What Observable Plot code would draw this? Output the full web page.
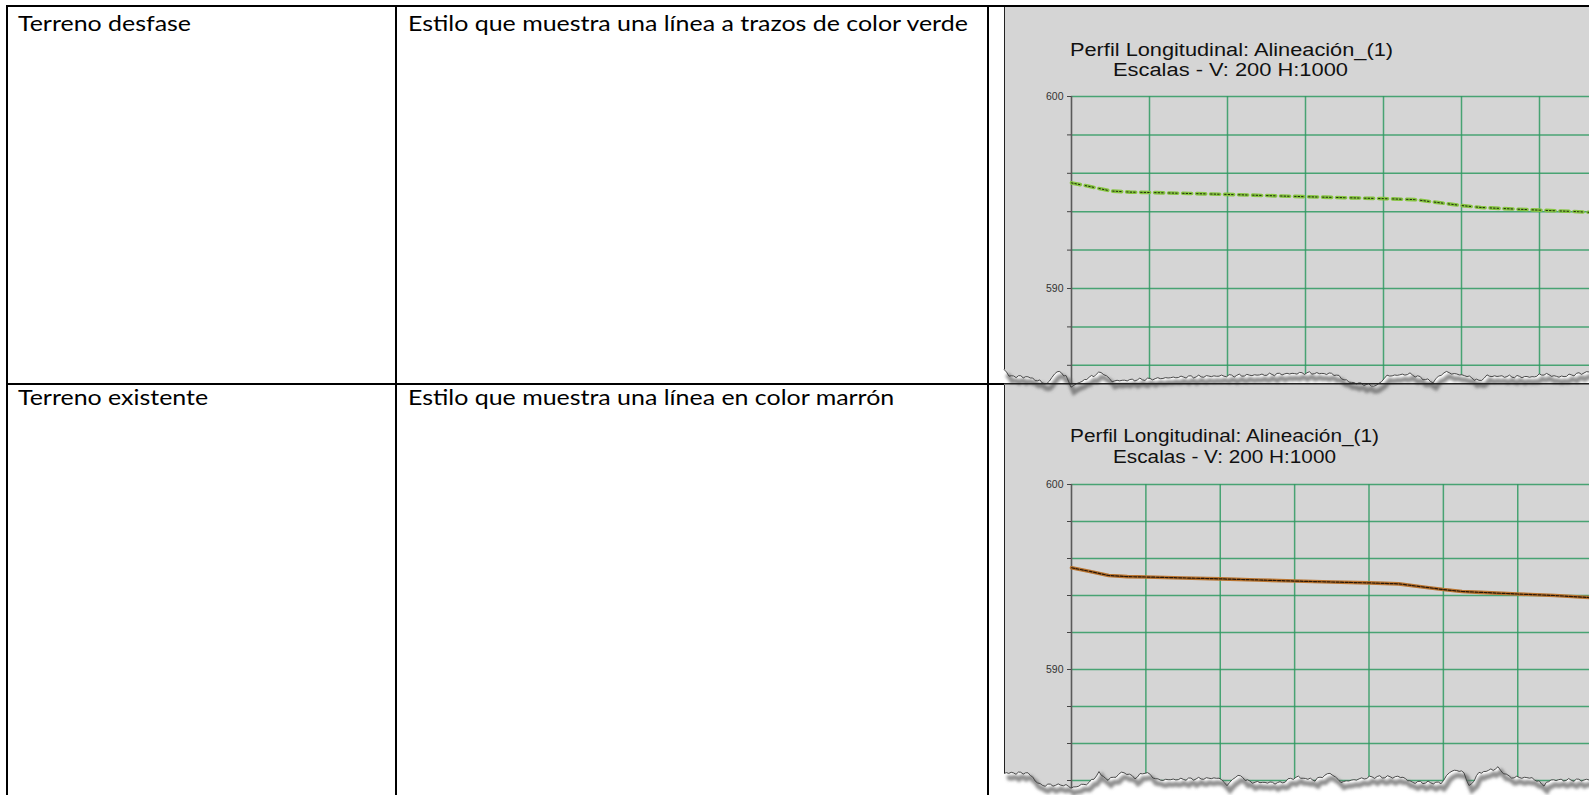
<!DOCTYPE html>
<html>
<head>
<meta charset="utf-8">
<script src="https://cdn.jsdelivr.net/npm/d3@7"></script>
<script src="https://cdn.jsdelivr.net/npm/@observablehq/plot@0.6"></script>
<style>
  html, body { margin: 0; padding: 0; background: #fff; }
  #page { position: relative; width: 1589px; height: 795px; overflow: hidden; background: #fff; }
  .layer { position: absolute; left: 0; top: 0; }
  .chartbox { position: absolute; overflow: hidden; }
  .chartbox svg { position: absolute; left: 0; top: 0; max-width: none !important; height: auto; }
</style>
</head>
<body>
<div id="page"></div>
<script>
// ---------------- data ----------------
const rowLabels = ["Terreno desfase", "Terreno existente"];
const rowDescriptions = [
  "Estilo que muestra una línea a trazos de color verde",
  "Estilo que muestra una línea en color marrón"
];
const chartTitle = "Perfil Longitudinal: Alineación_(1)";
const chartSubtitle = "Escalas - V: 200 H:1000";

// profile: station (m) and elevation (m)
const stations   = [0, 5, 10, 15, 20, 30, 40, 50, 60, 70, 80, 88, 95, 100, 105, 110, 120, 130, 140, 150, 160];
const elevations = [595.50, 595.30, 595.08, 595.02, 595.00, 594.95, 594.90, 594.84, 594.78, 594.73, 594.68,
                    594.63, 594.45, 594.32, 594.22, 594.17, 594.08, 594.00, 593.88, 593.80, 593.72];

const yTicks = [584, 586, 588, 590, 592, 594, 596, 598, 600];
const yTickLabels = [590, 600];
const xGridStations = [0, 20, 40, 60, 80, 100, 120, 140, 160];

// torn-paper edge of the two screenshots (decoration, px from each panel's top-left)
const tornEdge1 = [[0,362],[5,369],[24,370],[43,377],[53,364],[62,369],[67,380],[78,374],[97,365],[108,374],[146,372],[177,370],[215,369],[253,368],[303,366],[330,367],[345,375],[372,379],[383,369],[406,367],[429,375],[440,365],[463,369],[475,374],[483,369],[528,370],[540,367],[555,370],[585,365]];
const tornEdge2 = [[0,388],[24,388],[36,400],[62,400],[67,403],[85,398],[95,388],[104,395],[120,387],[131,393],[141,387],[154,395],[215,393],[223,400],[234,390],[246,397],[276,398],[292,392],[311,395],[326,388],[337,397],[368,392],[399,392],[406,397],[437,398],[448,385],[460,387],[465,402],[475,388],[494,383],[505,392],[528,393],[540,400],[547,395],[585,395]];

const terrain = stations.map((s, i) => ({sta: s, elev: elevations[i]}));

// ---------------- layout ----------------
const page = document.getElementById("page");
const W = 1589, H = 795;
const panels = [
  {x: 1004, y: 7,   w: 585, h: 376, top: 89, pxPerM: 3.90, pxPerUnit: 19.2, yMin: 584,
   title: {y: 56, size: 18, len: 323}, sub: {y: 76, size: 18, len: 235}, edge: tornEdge1, kind: "desfase"},
  {x: 1004, y: 385, w: 585, h: 410, top: 99, pxPerM: 3.72, pxPerUnit: 18.5, yMin: 582,
   title: {y: 442, size: 17.5, len: 309}, sub: {y: 463, size: 17.5, len: 223}, edge: tornEdge2, kind: "existente"}
];

// base layer: panel backgrounds
const base = d3.select(page).append("svg").attr("class", "layer").attr("width", W).attr("height", H);
panels.forEach(p => base.append("rect").attr("x", p.x).attr("y", p.y).attr("width", p.w).attr("height", p.h).attr("fill", "#d5d5d5"));

// charts
const gridColor = "#2f9a62";
function profileChart(p) {
  const xMax = xGridStations[xGridStations.length - 1];
  const width = Math.round(67 + xMax * p.pxPerM);
  const height = Math.round(p.top + (600 - p.yMin) * p.pxPerUnit);
  const lineMarks = p.kind === "desfase"
    ? [Plot.line(terrain, {x: "sta", y: "elev", stroke: "#86c540", strokeWidth: 3.6, strokeDasharray: "9 5"}),
       Plot.line(terrain, {x: "sta", y: "elev", stroke: "#1e2a0c", strokeWidth: 1, strokeDasharray: "1.5 2 1.5 2 1.5 5.5"})]
    : [Plot.line(terrain, {x: "sta", y: "elev", stroke: "#b9742f", strokeWidth: 3.6}),
       Plot.line(terrain, {x: "sta", y: "elev", stroke: "#2a1606", strokeWidth: 1.2, strokeDasharray: "3 1.5"})];
  return Plot.plot({
    width, height,
    marginLeft: 67, marginRight: 0, marginTop: p.top, marginBottom: height - p.top - (600 - p.yMin) * p.pxPerUnit,
    style: {background: "transparent", fontFamily: "'Liberation Sans', Arial, sans-serif", fontSize: "10.5px",
            color: "#333", overflow: "visible", maxWidth: "none"},
    x: {domain: [0, xMax], axis: null},
    y: {domain: [p.yMin, 600], axis: null},
    marks: [
      Plot.ruleY(yTicks.filter(v => v >= p.yMin), {x1: 0, x2: xMax, stroke: gridColor, strokeWidth: 1.5, strokeOpacity: 0.85}),
      Plot.ruleX(xGridStations.slice(1), {y1: p.yMin, y2: 600, stroke: gridColor, strokeWidth: 1.5, strokeOpacity: 0.85}),
      Plot.ruleX([0], {y1: p.yMin, y2: 600, stroke: "#5a5a5a", strokeWidth: 1.6}),
      Plot.axisY({ticks: yTicks, tickSize: 4, tickPadding: 4, stroke: "#444", label: null,
                  tickFormat: d => yTickLabels.includes(d) ? String(d) : "", fill: "#333"}),
      ...lineMarks
    ]
  });
}
panels.forEach(p => {
  const box = d3.select(page).append("div").attr("class", "chartbox")
    .style("left", p.x + "px").style("top", p.y + "px").style("width", p.w + "px").style("height", p.h + "px");
  const svg = profileChart(p);
  svg.style.maxWidth = "none";
  box.node().appendChild(svg);
});

// overlay layer
const ov = d3.select(page).append("svg").attr("class", "layer").attr("width", W).attr("height", H);
const defs = ov.append("defs");
defs.append("filter").attr("id", "blur").attr("x", "-5%").attr("y", "-50%").attr("width", "110%").attr("height", "200%")
  .append("feGaussianBlur").attr("stdDeviation", 1.6);

function roughen(edge) {
  const pts = [];
  for (let k = 0; k < edge.length - 1; k++) {
    const [x0, y0] = edge[k], [x1, y1] = edge[k + 1];
    const n = Math.max(1, Math.round((x1 - x0) / 2.5));
    for (let j = 0; j < n; j++) {
      const t = j / n, xx = x0 + (x1 - x0) * t;
      const wob = 0.9 * Math.sin(xx * 1.7) + 0.6 * Math.sin(xx * 0.63 + 1);
      pts.push([xx, y0 + (y1 - y0) * t + wob]);
    }
  }
  pts.push(edge[edge.length - 1]);
  return pts;
}

panels.forEach(p => {
  const g = ov.append("g").attr("transform", `translate(${p.x},${p.y})`);
  const pts = roughen(p.edge);
  const line = d3.line();
  g.append("line").attr("x1", 0.5).attr("x2", 0.5).attr("y1", 0).attr("y2", pts[0][1]).attr("stroke", "#222").attr("stroke-width", 1);
  const fillPts = pts.concat([[p.w + 5, p.h + 1], [-2, p.h + 1]]);
  g.append("path").attr("d", line(fillPts) + "Z").attr("fill", "#fff");
  g.append("path").attr("d", line(pts.map(([x, y]) => [x + 3, y + 5]))).attr("fill", "none")
    .attr("stroke", "#6a6a6a").attr("stroke-width", 5).attr("stroke-opacity", 0.75).attr("filter", "url(#blur)");
  g.append("path").attr("d", line(pts)).attr("fill", "none").attr("stroke", "#3a3a3a").attr("stroke-width", 0.9);
  const tf = "'Liberation Sans', Arial, sans-serif";
  g.append("text").attr("x", 66).attr("y", p.title.y - p.y).attr("font-family", tf).attr("font-size", p.title.size)
    .attr("fill", "#111").attr("textLength", p.title.len).attr("lengthAdjust", "spacingAndGlyphs").text(chartTitle);
  g.append("text").attr("x", 109).attr("y", p.sub.y - p.y).attr("font-family", tf).attr("font-size", p.sub.size)
    .attr("fill", "#111").attr("textLength", p.sub.len).attr("lengthAdjust", "spacingAndGlyphs").text(chartSubtitle);
});

// table rules
const rules = [
  [6, 5, W - 6, 2], [6, 5, 2, H], [395, 5, 2, H], [987, 5, 2, H], [6, 383, 998, 2]
];
rules.forEach(([x, y, w, h]) => ov.append("rect").attr("x", x).attr("y", y).attr("width", w).attr("height", h).attr("fill", "#000"));
ov.append("rect").attr("x", 1004).attr("y", 383).attr("width", 585).attr("height", 1.6).attr("fill", "#222");

// cell texts
const cellFont = "Lato, 'Open Sans', sans-serif";
const probe = ov.append("text").attr("font-family", cellFont).attr("font-size", 21).text(rowDescriptions[0]);
const natural = probe.node().getComputedTextLength();
probe.remove();
const sx = 560 / natural;
const rowBaselines = [31, 405];
rowLabels.forEach((lab, i) => {
  ov.append("g").attr("transform", `translate(18,${rowBaselines[i]}) scale(${sx},1)`)
    .append("text").attr("font-family", cellFont).attr("font-size", 21).attr("fill", "#000").text(lab);
  ov.append("g").attr("transform", `translate(408,${rowBaselines[i]}) scale(${sx},1)`)
    .append("text").attr("font-family", cellFont).attr("font-size", 21).attr("fill", "#000").text(rowDescriptions[i]);
});
</script>
</body>
</html>
